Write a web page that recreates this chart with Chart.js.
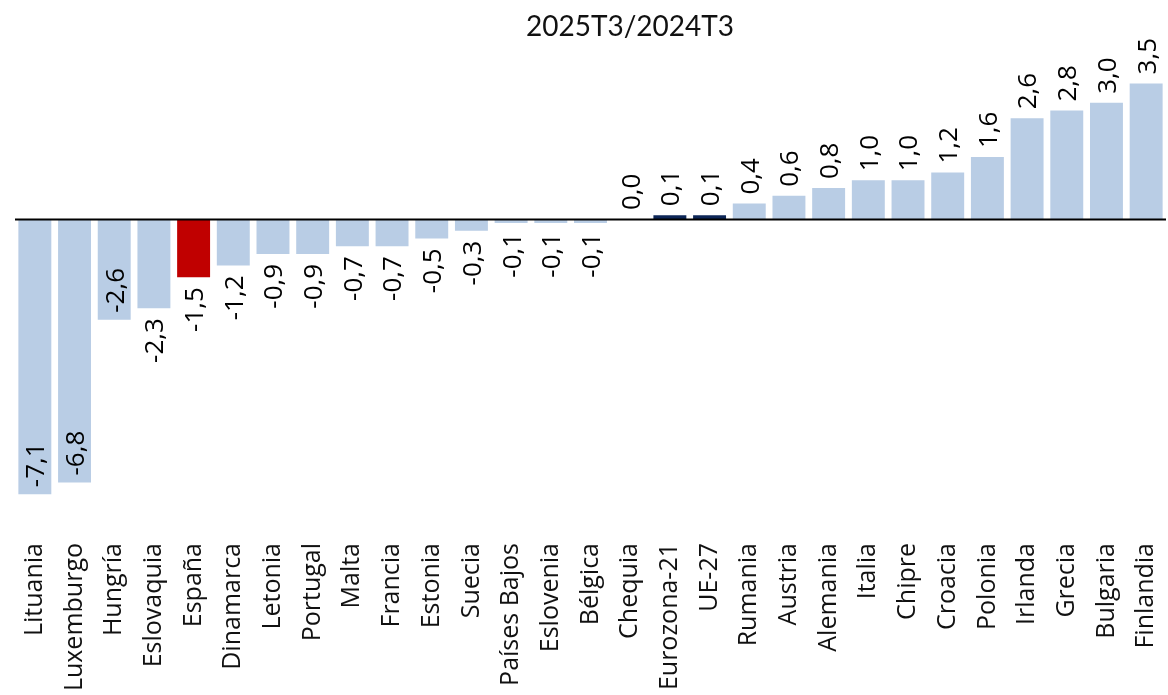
<!DOCTYPE html>
<html lang="es">
<head>
<meta charset="utf-8">
<title>2025T3/2024T3</title>
<script src="https://cdn.jsdelivr.net/npm/chart.js@4.4.1/dist/chart.umd.min.js"></script>
<style>
  html, body { margin: 0; padding: 0; background: #ffffff; }
  #wrap { width: 1168px; height: 695px; position: relative; overflow: hidden; }
</style>
</head>
<body>
<div id="wrap"><canvas id="c" width="1168" height="695"></canvas></div>
<script>
// Variación interanual por país, tercer trimestre 2025 frente a 2024
const titleText = '2025T3/2024T3';

const countries = [
  'Lituania', 'Luxemburgo', 'Hungría', 'Eslovaquia', 'España', 'Dinamarca',
  'Letonia', 'Portugal', 'Malta', 'Francia', 'Estonia', 'Suecia',
  'Países Bajos', 'Eslovenia', 'Bélgica', 'Chequia', 'Eurozona-21', 'UE-27',
  'Rumania', 'Austria', 'Alemania', 'Italia', 'Chipre', 'Croacia',
  'Polonia', 'Irlanda', 'Grecia', 'Bulgaria', 'Finlandia'
];

const values = [
  -7.1, -6.8, -2.6, -2.3, -1.5, -1.2,
  -0.9, -0.9, -0.7, -0.7, -0.5, -0.3,
  -0.1, -0.1, -0.1, 0.0, 0.1, 0.1,
  0.4, 0.6, 0.8, 1.0, 1.0, 1.2,
  1.6, 2.6, 2.8, 3.0, 3.5
];

// Highlighted entries
const highlightSpain = ['España'];
const highlightAggregates = ['Eurozona-21', 'UE-27'];

const COLOR_BASE = '#b9cde5';
const COLOR_SPAIN = '#c00000';
const COLOR_AGG = '#0d2657';

const barColors = countries.map(c =>
  highlightSpain.includes(c) ? COLOR_SPAIN :
  highlightAggregates.includes(c) ? COLOR_AGG : COLOR_BASE);

const fmt = v => v.toFixed(1).replace('.', ',');

// Zero baseline across the plot
const zeroLine = {
  id: 'zeroLine',
  afterDatasetsDraw(chart) {
    const { ctx, chartArea, scales } = chart;
    const y = Math.round(scales.y.getPixelForValue(0)) + 0.5;
    ctx.save();
    ctx.strokeStyle = '#000000';
    ctx.lineWidth = 2;
    ctx.beginPath();
    ctx.moveTo(chartArea.left, y);
    ctx.lineTo(chartArea.right, y);
    ctx.stroke();
    ctx.restore();
  }
};

// Rotated value labels at the end of each bar
const valueLabels = {
  id: 'valueLabels',
  afterDatasetsDraw(chart) {
    const { ctx } = chart;
    const meta = chart.getDatasetMeta(0);
    ctx.save();
    ctx.font = '26px "Open Sans", sans-serif';
    ctx.fillStyle = '#000000';
    ctx.textBaseline = 'middle';
    meta.data.forEach((bar, i) => {
      const v = values[i];
      const x = bar.x + 2;
      let y, align;
      if (v >= 0) {
        y = bar.y - 9;
        align = 'left';
      } else if (v <= -2.5) {
        y = bar.y - 7;
        align = 'left';
      } else {
        y = bar.y + 10;
        align = 'right';
      }
      ctx.save();
      ctx.translate(x, y);
      ctx.rotate(-Math.PI / 2);
      ctx.textAlign = align;
      ctx.fillText(fmt(v), 0, 0);
      ctx.restore();
    });
    ctx.restore();
  }
};

// Title text
const titleDraw = {
  id: 'titleDraw',
  afterDraw(chart) {
    const { ctx } = chart;
    ctx.save();
    ctx.font = '28px Lato, sans-serif';
    ctx.fillStyle = '#111111';
    ctx.textAlign = 'center';
    ctx.textBaseline = 'middle';
    ctx.fillText(titleText, 630, 27);
    ctx.restore();
  }
};

new Chart(document.getElementById('c'), {
  type: 'bar',
  data: {
    labels: countries,
    datasets: [{
      data: values,
      backgroundColor: barColors,
      borderWidth: 0,
      categoryPercentage: 1.0,
      barPercentage: 0.83
    }]
  },
  options: {
    responsive: false,
    animation: false,
    devicePixelRatio: 1,
    layout: { padding: { top: 64, left: 15, right: 2, bottom: 0 } },
    plugins: {
      legend: { display: false },
      title: { display: false },
      tooltip: { enabled: false }
    },
    scales: {
      x: {
        grid: { display: false, drawTicks: false },
        border: { display: false },
        ticks: {
          autoSkip: false,
          maxRotation: 90,
          minRotation: 90,
          padding: 14,
          color: '#111111',
          font: { family: '"Open Sans", sans-serif', size: 25 }
        },
        afterFit(scale) {
          scale.height = 166;
          scale.paddingLeft = 0;
          scale.paddingRight = 0;
        }
      },
      y: {
        display: false,
        min: -8,
        max: 4
      }
    }
  },
  plugins: [zeroLine, valueLabels, titleDraw]
});
</script>
</body>
</html>
